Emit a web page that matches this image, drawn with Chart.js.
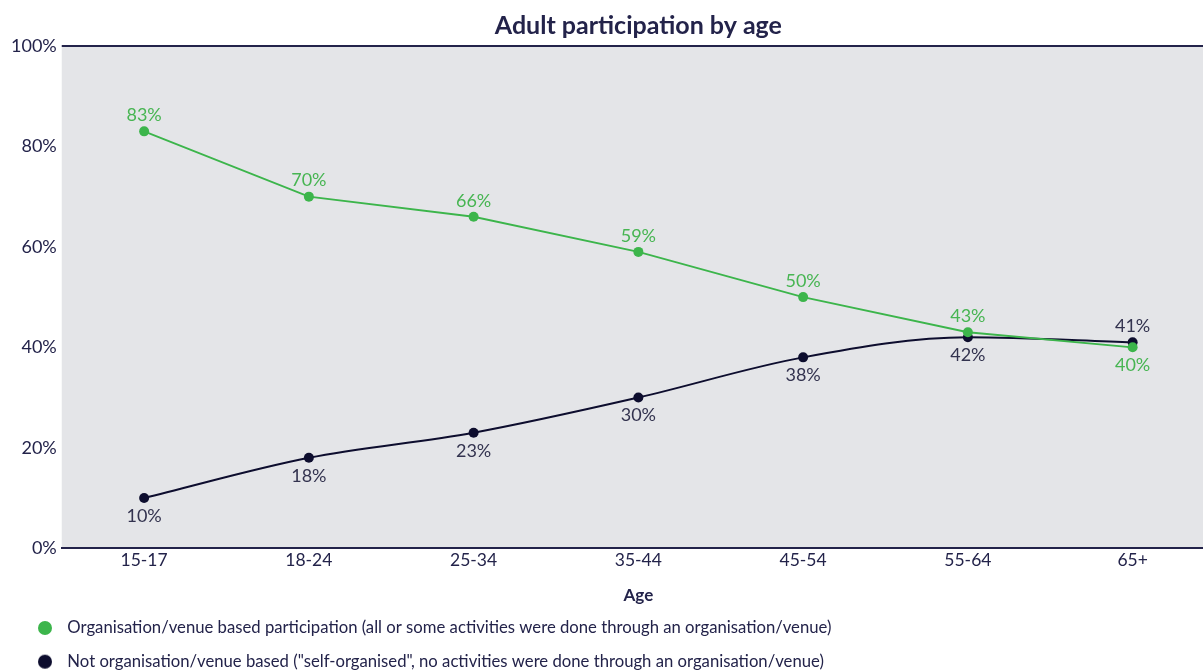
<!DOCTYPE html>
<html>
<head>
<meta charset="utf-8">
<script src="https://cdn.jsdelivr.net/npm/chart.js@4.4.0/dist/chart.umd.min.js"></script>
<style>
  html, body { margin: 0; padding: 0; background: #fff; }
  #wrap { width: 1203px; height: 671px; overflow: hidden; }
</style>
</head>
<body>
<div id="wrap"><canvas id="mycanvas" width="1280" height="680"></canvas></div>
<script>
// chart data
var chartTitle = 'Adult participation by age';
var ageGroups = ['15-17', '18-24', '25-34', '35-44', '45-54', '55-64', '65+'];
var orgBased = [83, 70, 66, 59, 50, 43, 40];
var selfOrganised = [10, 18, 23, 30, 38, 42, 41];
var yTicks = [0, 20, 40, 60, 80, 100];

var navy = '#23234a';
var green = '#3cb54b';
var dark = '#0d0d2e';

// round legend marker, sitting a bit right inside a wider box
function legendDot(colour) {
  var cv = document.createElement('canvas');
  cv.width = 36;
  cv.height = 16;
  var g = cv.getContext('2d');
  g.fillStyle = colour;
  g.beginPath();
  g.arc(22, 8, 7, 0, Math.PI * 2);
  g.fill();
  return cv;
}

// grey plot background + top rule + centred title
var framePlugin = {
  id: 'frame',
  beforeDraw: function(chart) {
    var a = chart.chartArea, c = chart.ctx;
    c.save();
    c.fillStyle = '#e4e5e8';
    c.fillRect(a.left, a.top, a.right - a.left, a.bottom - a.top);
    c.strokeStyle = navy;
    c.lineWidth = 2;
    c.beginPath();
    c.moveTo(a.left, a.top);
    c.lineTo(a.right, a.top);
    c.stroke();
    c.fillStyle = navy;
    c.font = 'bold 25px Lato';
    c.textAlign = 'center';
    c.textBaseline = 'middle';
    c.fillText(chartTitle, (a.left + a.right) / 2, 26);
    c.restore();
  }
};

// value labels: above the point if this series is the higher one, otherwise below
var labelPlugin = {
  id: 'valueLabels',
  afterDatasetsDraw: function(chart) {
    var c = chart.ctx;
    var sets = chart.data.datasets;
    c.save();
    c.font = '18px Lato';
    c.textAlign = 'center';
    c.textBaseline = 'middle';
    sets.forEach(function(ds, di) {
      var other = sets[1 - di].data;
      chart.getDatasetMeta(di).data.forEach(function(pt, i) {
        var up = ds.data[i] >= other[i];
        c.fillStyle = ds.labelColor;
        c.fillText(ds.data[i] + '%', pt.x, pt.y + (up ? -16 : 18));
      });
    });
    c.restore();
  }
};

var chartdata = {
  labels: ageGroups,
  datasets: [
    {
      label: 'Organisation/venue based participation (all or some activities were done through an organisation/venue)',
      data: orgBased,
      borderColor: green,
      backgroundColor: green,
      labelColor: '#47b552',
      borderWidth: 1.8,
      pointRadius: 5,
      pointBorderWidth: 0,
      tension: 0
    },
    {
      label: 'Not organisation/venue based ("self-organised", no activities were done through an organisation/venue)',
      data: selfOrganised,
      borderColor: dark,
      backgroundColor: dark,
      labelColor: '#33334f',
      borderWidth: 2,
      pointRadius: 5,
      pointBorderWidth: 0,
      cubicInterpolationMode: 'monotone'
    }
  ]
};

var ctx = document.getElementById('mycanvas');
var lineChart = new Chart(ctx, {
  type: 'line',
  data: chartdata,
  plugins: [framePlugin, labelPlugin],
  options: {
    responsive: false,
    animation: false,
    layout: { padding: { top: 46, right: 65, left: 6, bottom: 0 } },
    scales: {
      x: {
        offset: true,
        grid: { display: false, drawTicks: false },
        border: { color: navy, width: 2 },
        ticks: { color: navy, font: { family: 'Lato', size: 17.5 }, padding: 2 },
        title: { display: true, text: 'Age', color: navy, font: { family: 'Lato', size: 17, weight: 'bold' }, padding: { top: 12, bottom: -3 } }
      },
      y: {
        min: 0,
        max: 100,
        afterBuildTicks: function(axis) {
          axis.ticks = yTicks.map(function(v) { return { value: v }; });
        },
        grid: { display: false, drawTicks: false },
        border: { display: false },
        ticks: {
          color: navy,
          font: { family: 'Lato', size: 18 },
          padding: 5,
          callback: function(v) { return v + '%'; }
        }
      }
    },
    plugins: {
      title: { display: false },
      tooltip: { enabled: false },
      legend: {
        position: 'bottom',
        align: 'start',
        labels: {
          usePointStyle: true,
          pointStyleWidth: 36,
          boxHeight: 9,
          color: navy,
          padding: 17,
          font: { family: 'Lato', size: 16.7 },
          generateLabels: function(chart) {
            var items = Chart.defaults.plugins.legend.labels.generateLabels(chart);
            items.forEach(function(item) {
              item.pointStyle = legendDot(chart.data.datasets[item.datasetIndex].backgroundColor);
            });
            return items;
          }
        }
      }
    }
  }
});
</script>
</body>
</html>
